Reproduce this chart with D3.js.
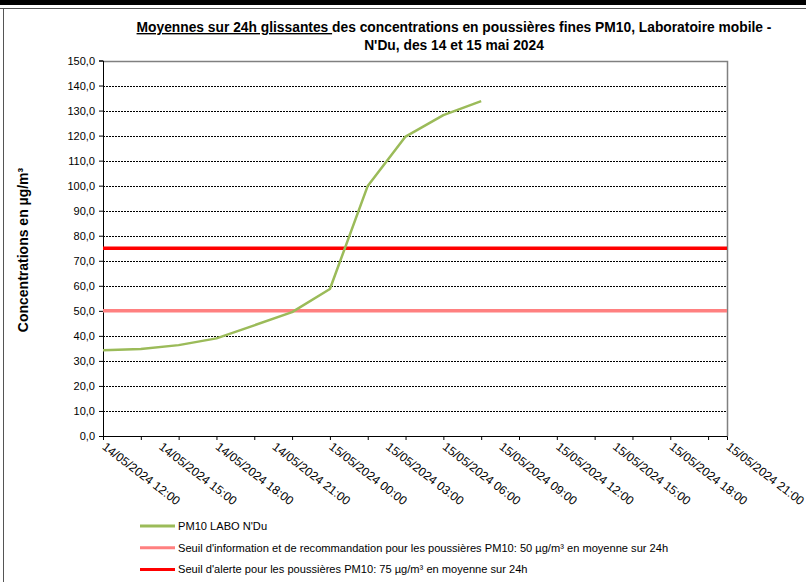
<!DOCTYPE html>
<html>
<head>
<meta charset="utf-8">
<script src="https://cdn.jsdelivr.net/npm/d3@7"></script>
<style>
  body { margin: 0; background: #fff; }
  svg text { font-family: Arial, "Liberation Sans", sans-serif; fill: #000; }
</style>
</head>
<body>
<div id="vis"></div>
<script>
// DATA
const times = [
	'2024-05-14 12:00', '2024-05-14 14:00', '2024-05-14 16:00', '2024-05-14 18:00',
	'2024-05-14 20:00', '2024-05-14 22:00', '2024-05-15 00:00', '2024-05-15 02:00',
	'2024-05-15 04:00', '2024-05-15 06:00', '2024-05-15 08:00'
];
const pm10 = [34.3, 34.8, 36.3, 39.0, 44.2, 49.5, 58.7, 99.9, 119.6, 128.2, 133.8];
const seuilInfo = 50,
	seuilAlerte = 75;
const xDomain = ['2024-05-14 12:00', '2024-05-15 21:00'];
const yTicks = [0, 10, 20, 30, 40, 50, 60, 70, 80, 90, 100, 110, 120, 130, 140, 150];
const legendLabels = [
	"PM10 LABO N'Du",
	"Seuil d'information et de recommandation pour les poussières PM10: 50 µg/m³ en moyenne sur 24h",
	"Seuil d'alerte pour les poussières PM10: 75 µg/m³ en moyenne sur 24h"
];
const legendColors = ['#9bbb59', '#ff8080', '#ff0000'];

// PARAMETERS
let width = 806,
	height = 582,
	plot = { left: 103, right: 727, top: 60.5, bottom: 436 };

let parse = d3.utcParse('%Y-%m-%d %H:%M');
let dates = times.map(parse);

// SCALES
let x = d3.scaleUtc().domain(xDomain.map(parse)).range([plot.left, plot.right]),
	y = d3.scaleLinear().domain([0, 150]).range([plot.bottom, plot.top]);

let svg = d3.select('#vis').append('svg').attr('width', width).attr('height', height);

// FRAME
svg.append('rect').attr('x', 0).attr('y', 0).attr('width', width).attr('height', 5).attr('fill', '#000');
svg.append('line').attr('x1', 0).attr('x2', width).attr('y1', 8.5).attr('y2', 8.5).attr('stroke', '#555');
svg.append('line').attr('x1', 3.5).attr('x2', 3.5).attr('y1', 8.5).attr('y2', height).attr('stroke', '#555');

// TITLE
let title = svg.append('text')
	.attr('text-anchor', 'middle')
	.attr('font-weight', 'bold')
	.attr('font-size', 13.8);
let line1 = title.append('tspan').attr('x', 454).attr('y', 32);
line1.append('tspan').attr('text-decoration', 'underline').text('Moyennes sur 24h glissantes ');
line1.append('tspan').text('des concentrations en poussières fines PM10, Laboratoire mobile -');
title.append('tspan').attr('x', 454).attr('y', 50).text("N'Du, des 14 et 15 mai 2024");

// GRID
svg.append('g')
	.selectAll('line')
	.data(yTicks.filter(d => d > 0 && d < 150))
	.join('line')
	.attr('x1', plot.left).attr('x2', plot.right)
	.attr('y1', d => Math.round(y(d)) + 0.5).attr('y2', d => Math.round(y(d)) + 0.5)
	.attr('stroke', '#000')
	.attr('stroke-dasharray', '2,1');

// PLOT BORDER
svg.append('path')
	.attr('d', `M${plot.left},${Math.round(plot.top) + 0.5}H${plot.right + 0.5}V${plot.bottom}`)
	.attr('fill', 'none')
	.attr('stroke', '#808080')
	.attr('stroke-width', 1.5);

// AXES
let yAxis = d3.axisLeft(y)
	.tickValues(yTicks)
	.tickSize(4)
	.tickPadding(4)
	.tickFormat(d => d3.format('.1f')(d).replace('.', ','));
let gy = svg.append('g').attr('transform', `translate(${plot.left},0)`).call(yAxis);
gy.select('.domain').attr('stroke', '#000');
gy.selectAll('.tick text').attr('font-size', 11).attr('font-family', 'Arial, "Liberation Sans", sans-serif');

let xAxis = d3.axisBottom(x)
	.ticks(d3.utcHour.every(2))
	.tickSize(4)
	.tickFormat('');
let gx = svg.append('g').attr('transform', `translate(0,${plot.bottom})`).call(xAxis);
gx.select('.domain').attr('stroke', '#000');

let fmt = d3.utcFormat('%d/%m/%Y %H:%M');
svg.append('g')
	.selectAll('text')
	.data(d3.utcHour.every(3).range(x.domain()[0], +x.domain()[1] + 1))
	.join('text')
	.attr('transform', d => `translate(${x(d) + 1},${plot.bottom + 9}) rotate(37.5)`)
	.attr('font-size', 12.1)
	.attr('dy', '0.35em')
	.text(d => fmt(d));

// Y TITLE
svg.append('text')
	.attr('transform', 'translate(28,250) rotate(-90)')
	.attr('text-anchor', 'middle')
	.attr('font-weight', 'bold')
	.attr('font-size', 14)
	.text('Concentrations en µg/m³');

// SEUILS
svg.append('line')
	.attr('x1', plot.left).attr('x2', plot.right)
	.attr('y1', y(seuilInfo)).attr('y2', y(seuilInfo))
	.attr('stroke', legendColors[1]).attr('stroke-width', 3.5);
svg.append('line')
	.attr('x1', plot.left).attr('x2', plot.right)
	.attr('y1', y(seuilAlerte)).attr('y2', y(seuilAlerte))
	.attr('stroke', legendColors[2]).attr('stroke-width', 3.5);

// SERIES
svg.append('path')
	.datum(pm10)
	.attr('fill', 'none')
	.attr('stroke', legendColors[0])
	.attr('stroke-width', 2.5)
	.attr('stroke-linejoin', 'round')
	.attr('d', d3.line().x((d, i) => x(dates[i])).y(d => y(d)));

// LEGEND
let legend = svg.append('g');
let items = legend.selectAll('g')
	.data(legendLabels)
	.join('g')
	.attr('transform', (d, i) => `translate(140,${526 + i * 21.8})`);
items.append('line')
	.attr('x1', 0).attr('x2', 35)
	.attr('stroke', (d, i) => legendColors[i])
	.attr('stroke-width', 3);
items.append('text')
	.attr('x', 38)
	.attr('dy', '0.35em')
	.attr('font-size', 11.1)
	.text(d => d);
</script>
</body>
</html>
